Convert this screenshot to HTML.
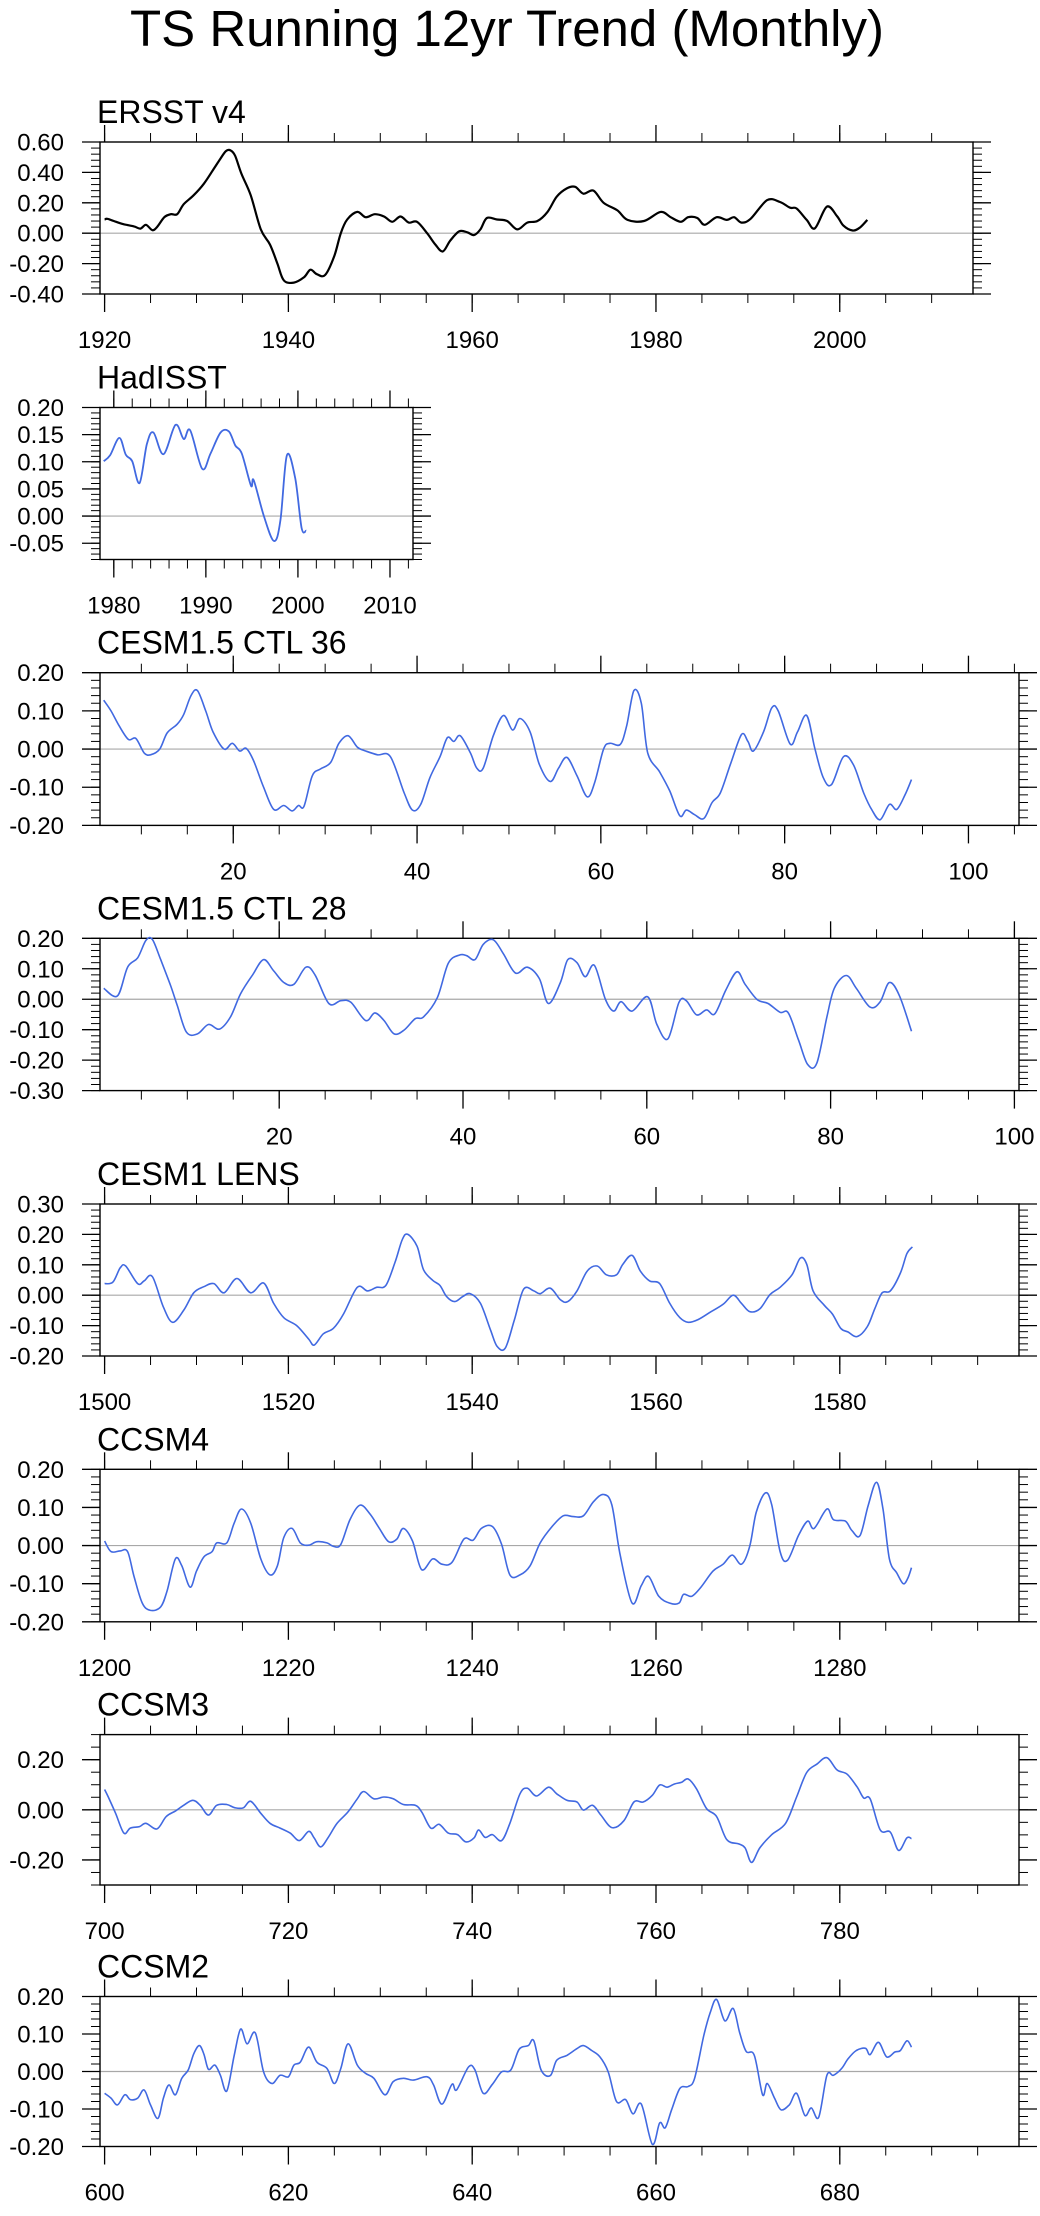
<!DOCTYPE html>
<html><head><meta charset="utf-8">
<style>
html,body{margin:0;padding:0;background:#fff;}
svg{display:block;font-family:"Liberation Sans",Arial,sans-serif;}
</style></head>
<body>
<svg id="fig" width="1040" height="2216" viewBox="0 0 1040 2216">
<text x="507" y="46" font-size="51" text-anchor="middle" fill="#000">TS Running 12yr Trend (Monthly)</text>
</svg>
<script>
// ERSST v4
const ersstX=[1920,1920.3,1921,1922,1923.2,1923.9,1924.5,1925.2,1925.7,1926.5,1927.2,1927.9,1928.6,1929.7,1930.8,1931.9,1932.6,1933.2,1933.7,1934.2,1934.9,1935.9,1937,1938,1938.8,1939.5,1940.6,1941.7,1942.4,1943.1,1944,1945,1945.7,1946.4,1947.5,1948.4,1949.4,1950.4,1951.3,1952.2,1953.1,1954,1955.1,1956,1956.8,1957.6,1958.6,1959.5,1960.2,1960.9,1961.6,1962.7,1963.8,1964.9,1966,1967.1,1968.2,1969.2,1970.3,1971.2,1972.1,1973.2,1974.3,1975.8,1976.9,1978.7,1980.5,1981.6,1982.7,1983.5,1984.5,1985.3,1986.6,1987.7,1988.5,1989.3,1990.3,1992.1,1993.5,1994.6,1995.3,1996.4,1997.3,1998.6,1999.7,2000.4,2001.4,2002.2,2003];
const ersstY=[0.09,0.095,0.08,0.06,0.045,0.03,0.055,0.02,0.04,0.105,0.125,0.125,0.19,0.25,0.325,0.425,0.49,0.54,0.545,0.51,0.39,0.25,0.025,-0.075,-0.2,-0.31,-0.325,-0.29,-0.24,-0.27,-0.275,-0.15,0.0,0.09,0.14,0.105,0.125,0.11,0.075,0.11,0.07,0.075,0.0,-0.075,-0.12,-0.05,0.0125,0.005,-0.0125,0.025,0.1,0.09,0.08,0.025,0.07,0.08,0.14,0.24,0.295,0.305,0.26,0.28,0.2,0.15,0.0875,0.08,0.14,0.105,0.075,0.105,0.1,0.055,0.105,0.0875,0.105,0.07,0.095,0.2175,0.205,0.1675,0.1625,0.0875,0.0325,0.175,0.1125,0.05,0.0175,0.0375,0.0875];
// HadISST
const hadX=[1978.9,1979.6,1980.6,1981.3,1982,1982.8,1983.6,1984.3,1985.4,1986.7,1987.6,1988.3,1989.6,1990.5,1991.6,1992.5,1993.2,1993.9,1994.9,1995.2,1996.3,1997.4,1998.1,1998.8,1999.7,2000.4,2000.9];
const hadY=[0.101,0.112,0.144,0.113,0.101,0.061,0.133,0.154,0.114,0.168,0.142,0.158,0.087,0.115,0.154,0.156,0.13,0.115,0.056,0.066,0.0,-0.046,-0.008,0.112,0.07,-0.022,-0.027];
// CESM1.5 CTL 36
const c36X=[5.9,6.7,7.6,8.6,9.4,10.3,11,12,12.8,13.9,14.6,15.4,16.1,17,17.8,19,19.9,20.7,21.4,22.2,23.3,24.4,25.5,26.4,27.1,27.7,28.6,29.5,30.6,31.5,32.5,33.5,34.4,35.7,37.1,38.6,39.5,40.4,41.4,42.5,43.3,44,44.7,45.8,46.5,47.2,48.3,49.4,50.4,51.2,52.3,53.3,54.5,55.4,56.3,57.4,58.5,59.3,60.3,61,62.1,62.8,63.6,64.4,65.1,66.4,67.5,68.6,69.3,70.2,71.2,72.1,73,74.1,75.3,76,76.6,77.7,78.6,79.3,80.6,81.4,82.4,83.3,84.2,85.1,86.4,87.5,88.6,89.5,90.4,91.4,92.2,93.1,93.8];
const c36Y=[0.128,0.1,0.06,0.025,0.028,-0.01,-0.015,0.0,0.042,0.065,0.09,0.14,0.153,0.1,0.045,0.0,0.015,-0.005,0.002,-0.03,-0.1,-0.158,-0.148,-0.162,-0.148,-0.15,-0.07,-0.052,-0.035,0.015,0.035,0.005,-0.005,-0.015,-0.02,-0.115,-0.16,-0.145,-0.075,-0.02,0.03,0.02,0.035,-0.01,-0.05,-0.05,0.035,0.088,0.05,0.08,0.045,-0.04,-0.085,-0.05,-0.022,-0.07,-0.125,-0.09,0.0,0.015,0.012,0.06,0.153,0.12,-0.01,-0.06,-0.11,-0.175,-0.16,-0.172,-0.182,-0.14,-0.115,-0.04,0.038,0.02,-0.005,0.045,0.108,0.1,0.013,0.045,0.088,0.0,-0.075,-0.093,-0.02,-0.042,-0.115,-0.16,-0.185,-0.145,-0.158,-0.12,-0.08];
// CESM1.5 CTL 28
const c28X=[0.9,2.4,3.5,4.6,5.5,6.2,7.1,8.2,8.9,9.9,11.1,12.3,13.5,14.7,15.8,17.1,18.3,19.4,20.5,21.6,22.9,23.9,25.4,26.7,27.8,29.4,30.4,31.4,32.5,33.6,34.8,35.7,37.2,38.4,39.6,40.4,41.3,42.2,43.3,44.4,45.7,47,48.3,49.3,50.6,51.4,52.4,53.3,54.3,55.5,56.4,57.2,58.4,60.1,61.1,62.3,63.5,64.3,65.4,66.5,67.4,68.6,69.8,70.7,72,73.2,74.5,75.4,76.5,77.5,78.5,79.6,80.4,81.7,82.8,84.3,85.4,86.4,87.5,88.8];
const c28Y=[0.036,0.011,0.105,0.136,0.193,0.196,0.13,0.043,-0.02,-0.108,-0.114,-0.083,-0.098,-0.058,0.018,0.08,0.13,0.093,0.055,0.049,0.105,0.08,-0.014,-0.005,-0.01,-0.07,-0.045,-0.07,-0.114,-0.101,-0.064,-0.058,0.005,0.118,0.145,0.143,0.13,0.18,0.195,0.149,0.086,0.105,0.068,-0.014,0.055,0.13,0.12,0.074,0.111,-0.001,-0.039,-0.008,-0.039,0.008,-0.083,-0.13,-0.01,-0.005,-0.051,-0.035,-0.048,0.03,0.09,0.049,-0.001,-0.014,-0.043,-0.045,-0.133,-0.214,-0.21,-0.058,0.036,0.078,0.036,-0.026,-0.008,0.055,0.011,-0.105];
// CESM1 LENS
const lensX=[1500,1500.9,1501.7,1502.3,1503.6,1504.3,1505.2,1506.4,1507.4,1508.6,1509.7,1510.8,1511.9,1513,1514.4,1515.9,1517.3,1518.4,1519.5,1520.9,1522.2,1522.8,1523.8,1524.9,1526,1527.5,1528.6,1529.6,1530.6,1531.6,1532.4,1533,1534,1534.7,1535.7,1536.5,1537.2,1538.1,1539,1539.8,1540.9,1542,1542.7,1543.6,1544.6,1545.6,1546.7,1547.4,1548.5,1549.6,1550.4,1551.4,1552.5,1553.6,1554.6,1555.7,1556.4,1557.4,1558.3,1559.3,1560.4,1561.5,1562.6,1563.5,1564.6,1565.9,1567.3,1568.4,1569.3,1570.2,1571.3,1572.4,1573.5,1574.8,1575.7,1576.4,1577.1,1578.3,1579.2,1580.1,1580.9,1581.9,1583,1583.8,1584.6,1585.5,1586.6,1587.3,1587.9];
const lensY=[0.038,0.043,0.09,0.096,0.038,0.047,0.061,-0.039,-0.089,-0.05,0.008,0.028,0.038,0.008,0.055,0.008,0.04,-0.027,-0.074,-0.1,-0.144,-0.164,-0.127,-0.109,-0.062,0.026,0.014,0.026,0.032,0.108,0.184,0.2,0.161,0.084,0.049,0.032,-0.004,-0.021,-0.004,0.005,-0.027,-0.115,-0.168,-0.174,-0.08,0.02,0.014,0.005,0.023,-0.015,-0.021,0.014,0.079,0.096,0.067,0.067,0.102,0.131,0.079,0.047,0.038,-0.027,-0.074,-0.089,-0.08,-0.056,-0.03,0.0,-0.027,-0.054,-0.045,0.002,0.026,0.067,0.122,0.102,0.014,-0.033,-0.062,-0.109,-0.121,-0.136,-0.103,-0.045,0.008,0.014,0.073,0.137,0.159];
// CCSM4
const c4X=[1200,1200.7,1201.7,1202.5,1203.2,1204.1,1205,1206.1,1206.8,1207.7,1208.4,1209.3,1210,1210.8,1211.7,1212.2,1213.3,1214.1,1214.9,1215.9,1217,1218,1218.8,1219.5,1220.4,1221.3,1222.2,1223.1,1224.2,1224.9,1225.7,1226.7,1227.8,1228.9,1229.9,1230.9,1231.8,1232.5,1233.5,1234.5,1235.7,1236.7,1237.8,1239.1,1240.1,1241,1242.2,1243.2,1244.1,1245.2,1246.3,1247.4,1248.7,1249.9,1251,1252.1,1253.2,1254.3,1255.2,1256.1,1257.4,1258.4,1259.2,1260.3,1261.5,1262.5,1263,1263.9,1264.9,1266.2,1267.3,1268.3,1269.3,1270.2,1270.9,1271.9,1272.6,1273.5,1274.3,1275.5,1276.5,1277.2,1278.6,1279.3,1280.6,1281.3,1282.2,1283.1,1284,1284.7,1285.4,1286.2,1286.9,1287.4,1287.8];
const c4Y=[0.012,-0.016,-0.014,-0.016,-0.081,-0.151,-0.17,-0.161,-0.119,-0.035,-0.053,-0.109,-0.067,-0.03,-0.016,0.007,0.007,0.059,0.096,0.059,-0.035,-0.077,-0.053,0.021,0.045,0.007,0.001,0.01,0.007,-0.002,0.003,0.068,0.106,0.082,0.045,0.01,0.017,0.045,0.012,-0.063,-0.035,-0.049,-0.044,0.017,0.014,0.045,0.05,0.003,-0.077,-0.077,-0.053,0.007,0.05,0.078,0.076,0.078,0.115,0.134,0.106,-0.025,-0.151,-0.105,-0.081,-0.133,-0.151,-0.151,-0.128,-0.133,-0.109,-0.067,-0.049,-0.025,-0.049,-0.002,0.087,0.138,0.106,-0.016,-0.039,0.026,0.064,0.045,0.096,0.068,0.064,0.04,0.026,0.106,0.166,0.096,-0.035,-0.072,-0.1,-0.086,-0.058];
// CCSM3
const c3X=[700,700.4,701.2,702.1,702.8,703.8,704.5,705.7,706.7,707.7,708.6,709.6,710.4,711.3,712.2,713.3,714.2,715.1,715.9,717,718,719.1,720.2,721.2,722.2,722.8,723.5,724.3,725.3,726.5,727.5,728.2,729.3,730.4,731.4,732.5,733.8,734.5,735.5,736.4,737.4,738.4,739.3,740.2,740.7,741.4,742.2,743.2,744.1,745.2,746,747,748.3,749.2,750.3,751.4,752.1,753.1,754,755.2,756.5,757.6,758.6,759.6,760.4,761.2,762,762.8,763.5,764.4,765.5,766.6,767.7,769,769.7,770.4,771.3,772.6,774.1,775.3,776.4,777.5,778.6,779.7,780.8,781.9,782.6,783.3,784.4,785.5,786.4,787.3,787.8];
const c3Y=[0.081,0.051,-0.014,-0.093,-0.073,-0.067,-0.054,-0.076,-0.027,-0.005,0.018,0.038,0.018,-0.021,0.018,0.021,0.008,0.008,0.034,-0.014,-0.054,-0.073,-0.093,-0.123,-0.086,-0.112,-0.148,-0.112,-0.054,-0.008,0.044,0.073,0.044,0.051,0.044,0.021,0.018,-0.008,-0.073,-0.058,-0.093,-0.099,-0.128,-0.112,-0.08,-0.11,-0.099,-0.123,-0.054,0.064,0.086,0.055,0.09,0.064,0.038,0.031,-0.001,0.018,-0.021,-0.071,-0.044,0.031,0.031,0.058,0.099,0.09,0.103,0.11,0.123,0.084,0.005,-0.027,-0.119,-0.136,-0.152,-0.21,-0.152,-0.099,-0.054,0.051,0.149,0.182,0.208,0.159,0.142,0.09,0.047,0.044,-0.08,-0.089,-0.162,-0.112,-0.115];
// CCSM2
const c2X=[600,600.7,601.4,602.2,602.8,603.6,604.3,605,605.8,606.4,607,607.7,608.4,609.1,609.7,610.3,610.8,611.3,612,612.6,613.3,614.1,614.8,615.5,616.4,617.3,618.2,619.1,620,620.6,621.3,622.2,623.1,624.2,625,625.7,626.5,627.5,628.4,629.3,630.5,631.4,632.5,633.6,635.1,635.8,636.7,637.8,638.3,639.6,640.3,641.2,642.2,643.2,644.2,645.1,646.1,646.7,647.5,648.5,649.2,650.3,651.4,652.1,653,653.9,654.8,655.7,656.7,657.5,658.4,659.6,660.4,661,661.7,662.6,663.5,664.2,665.2,665.9,666.6,667.5,668.4,669.1,669.8,670.7,671.6,672.1,672.9,673.6,674.5,675.3,676.2,676.9,677.7,678.6,679.3,680.2,680.9,681.8,682.8,683.3,684.2,685.1,686,686.6,687.3,687.8];
const c2Y=[-0.058,-0.071,-0.089,-0.062,-0.075,-0.071,-0.049,-0.089,-0.125,-0.071,-0.036,-0.062,-0.018,0.004,0.047,0.069,0.047,0.006,0.017,-0.01,-0.052,0.043,0.113,0.074,0.103,-0.001,-0.032,-0.01,-0.014,0.017,0.025,0.065,0.025,0.008,-0.032,0.008,0.074,0.017,-0.005,-0.018,-0.062,-0.027,-0.018,-0.023,-0.014,-0.036,-0.087,-0.034,-0.049,0.012,0.004,-0.058,-0.034,-0.001,0.004,0.059,0.069,0.082,0.004,-0.011,0.03,0.043,0.061,0.069,0.056,0.039,-0.001,-0.08,-0.075,-0.113,-0.087,-0.194,-0.137,-0.15,-0.102,-0.045,-0.04,-0.018,0.096,0.157,0.192,0.135,0.168,0.104,0.054,0.043,-0.062,-0.032,-0.071,-0.102,-0.089,-0.058,-0.117,-0.097,-0.122,-0.01,-0.01,0.008,0.034,0.056,0.062,0.045,0.078,0.039,0.052,0.056,0.082,0.065];

// tick label arrays
const ersstXTicks=[1920,1940,1960,1980,2000];
const ersstYTicks=[0.6,0.4,0.2,0.0,-0.2,-0.4];
const hadXTicks=[1980,1990,2000,2010];
const hadYTicks=[0.2,0.15,0.1,0.05,0.0,-0.05];
const c36XTicks=[20,40,60,80,100];
const c36YTicks=[0.2,0.1,0.0,-0.1,-0.2];
const c28XTicks=[20,40,60,80,100];
const c28YTicks=[0.2,0.1,0.0,-0.1,-0.2,-0.3];
const lensXTicks=[1500,1520,1540,1560,1580];
const lensYTicks=[0.3,0.2,0.1,0.0,-0.1,-0.2];
const c4XTicks=[1200,1220,1240,1260,1280];
const c4YTicks=[0.2,0.1,0.0,-0.1,-0.2];
const c3XTicks=[700,720,740,760,780];
const c3YTicks=[0.2,0.0,-0.2];
const c2XTicks=[600,620,640,660,680];
const c2YTicks=[0.2,0.1,0.0,-0.1,-0.2];

const NS='http://www.w3.org/2000/svg';
const svg=document.getElementById('fig');
function mk(tag,attrs,parent){const e=document.createElementNS(NS,tag);for(const k in attrs)e.setAttribute(k,attrs[k]);(parent||svg).appendChild(e);return e;}

function smoothPath(pts){
  let d='M'+pts[0][0].toFixed(1)+' '+pts[0][1].toFixed(1);
  for(let i=0;i<pts.length-1;i++){
    const p0=pts[i-1]||pts[i],p1=pts[i],p2=pts[i+1],p3=pts[i+2]||p2;
    const c1x=p1[0]+(p2[0]-p0[0])/6,c1y=p1[1]+(p2[1]-p0[1])/6;
    const c2x=p2[0]-(p3[0]-p1[0])/6,c2y=p2[1]-(p3[1]-p1[1])/6;
    d+='C'+c1x.toFixed(1)+' '+c1y.toFixed(1)+' '+c2x.toFixed(1)+' '+c2y.toFixed(1)+' '+p2[0].toFixed(1)+' '+p2[1].toFixed(1);
  }
  return d;
}

function panel(o){
  const g=mk('g',{});
  
  
  const L=o.left,R=o.right,T=o.top,B=o.top+o.h;
  const sx=v=>L+(v-o.xmin)/(o.xmax-o.xmin)*(R-L);
  const sy=v=>T+(o.ymax-v)/(o.ymax-o.ymin)*(B-T);
  const t=mk('text',{x:97,y:T-19,'font-size':32,fill:'#000'},g);
  t.textContent=o.label;
  
  
  const z=mk('line',{x1:L,x2:R,y1:sy(0),y2:sy(0),stroke:'#a8a8a8','stroke-width':1.2},g);
  
  
  for(let v=Math.ceil(o.xmin/o.xminor)*o.xminor;v<=o.xmax;v+=o.xminor){
    const x=sx(v);
    mk('line',{x1:x,x2:x,y1:T,y2:T-9,stroke:'#000','stroke-width':1},g);
    mk('line',{x1:x,x2:x,y1:B,y2:B+9,stroke:'#000','stroke-width':1},g);
  }
  o.xt.forEach(v=>{
    const x=sx(v);
    mk('line',{x1:x,x2:x,y1:T,y2:T-17,stroke:'#000','stroke-width':1.3},g);
    mk('line',{x1:x,x2:x,y1:B,y2:B+18,stroke:'#000','stroke-width':1.3},g);
    const lb=mk('text',{x:x,y:B+54,'font-size':24,'text-anchor':'middle',fill:'#000'},g);
    lb.textContent=String(v);
    
    
  });
  const n=Math.round((o.ymax-o.ymin)/o.yminor);
  for(let i=0;i<=n;i++){
    const y=sy(o.ymin+i*o.yminor);
    mk('line',{x1:L,x2:L-9,y1:y,y2:y,stroke:'#000','stroke-width':1},g);
    mk('line',{x1:R,x2:R+9,y1:y,y2:y,stroke:'#000','stroke-width':1},g);
  }
  o.yt.forEach(v=>{
    const y=sy(v);
    mk('line',{x1:L,x2:L-18,y1:y,y2:y,stroke:'#000','stroke-width':1.3},g);
    mk('line',{x1:R,x2:R+18,y1:y,y2:y,stroke:'#000','stroke-width':1.3},g);
    const lb=mk('text',{x:64,y:y+8.5,'font-size':24,'text-anchor':'end',fill:'#000'},g);
    lb.textContent=v.toFixed(2);
    
    
  });
  const f=mk('rect',{x:L,y:T,width:R-L,height:B-T,fill:'none',stroke:'#000','stroke-width':1.4},g);
  
  
  const pts=o.xs.map((v,i)=>[sx(v),sy(o.ys[i])]);
  const p=mk('path',{d:smoothPath(pts),fill:'none',stroke:o.color,'stroke-width':o.sw,'stroke-linejoin':'round'},g);
  
  
}

panel({name:'ersst',label:'ERSST v4',left:100,right:973,top:142,h:152,xmin:1919.5,xmax:2014.5,xminor:5,ymin:-0.4,ymax:0.6,yminor:0.04,xt:ersstXTicks,yt:ersstYTicks,xs:ersstX,ys:ersstY,color:'#000',sw:2.2});
panel({name:'hadisst',label:'HadISST',left:100,right:413,top:407.5,h:152,xmin:1978.5,xmax:2012.5,xminor:2,ymin:-0.08,ymax:0.2,yminor:0.01,xt:hadXTicks,yt:hadYTicks,xs:hadX,ys:hadY,color:'#4169e1',sw:1.8});
panel({name:'cesm15-ctl36',label:'CESM1.5 CTL 36',left:100,right:1019,top:672.7,h:152.7,xmin:5.5,xmax:105.5,xminor:5,ymin:-0.2,ymax:0.2,yminor:0.02,xt:c36XTicks,yt:c36YTicks,xs:c36X,ys:c36Y,color:'#4169e1',sw:1.6});
panel({name:'cesm15-ctl28',label:'CESM1.5 CTL 28',left:100,right:1019,top:938.3,h:152.3,xmin:0.5,xmax:100.5,xminor:5,ymin:-0.3,ymax:0.2,yminor:0.02,xt:c28XTicks,yt:c28YTicks,xs:c28X,ys:c28Y,color:'#4169e1',sw:1.6});
panel({name:'cesm1-lens',label:'CESM1 LENS',left:100,right:1019,top:1204,h:152,xmin:1499.5,xmax:1599.5,xminor:5,ymin:-0.2,ymax:0.3,yminor:0.02,xt:lensXTicks,yt:lensYTicks,xs:lensX,ys:lensY,color:'#4169e1',sw:1.6});
panel({name:'ccsm4',label:'CCSM4',left:100,right:1019,top:1469.3,h:152.5,xmin:1199.5,xmax:1299.5,xminor:5,ymin:-0.2,ymax:0.2,yminor:0.02,xt:c4XTicks,yt:c4YTicks,xs:c4X,ys:c4Y,color:'#4169e1',sw:1.6});
panel({name:'ccsm3',label:'CCSM3',left:100,right:1019,top:1734.6,h:150.4,xmin:699.5,xmax:799.5,xminor:5,ymin:-0.3,ymax:0.3,yminor:0.05,xt:c3XTicks,yt:c3YTicks,xs:c3X,ys:c3Y,color:'#4169e1',sw:1.6});
panel({name:'ccsm2',label:'CCSM2',left:100,right:1019,top:1996.5,h:150,xmin:599.5,xmax:699.5,xminor:5,ymin:-0.2,ymax:0.2,yminor:0.02,xt:c2XTicks,yt:c2YTicks,xs:c2X,ys:c2Y,color:'#4169e1',sw:1.6});
</script>
</body></html>
